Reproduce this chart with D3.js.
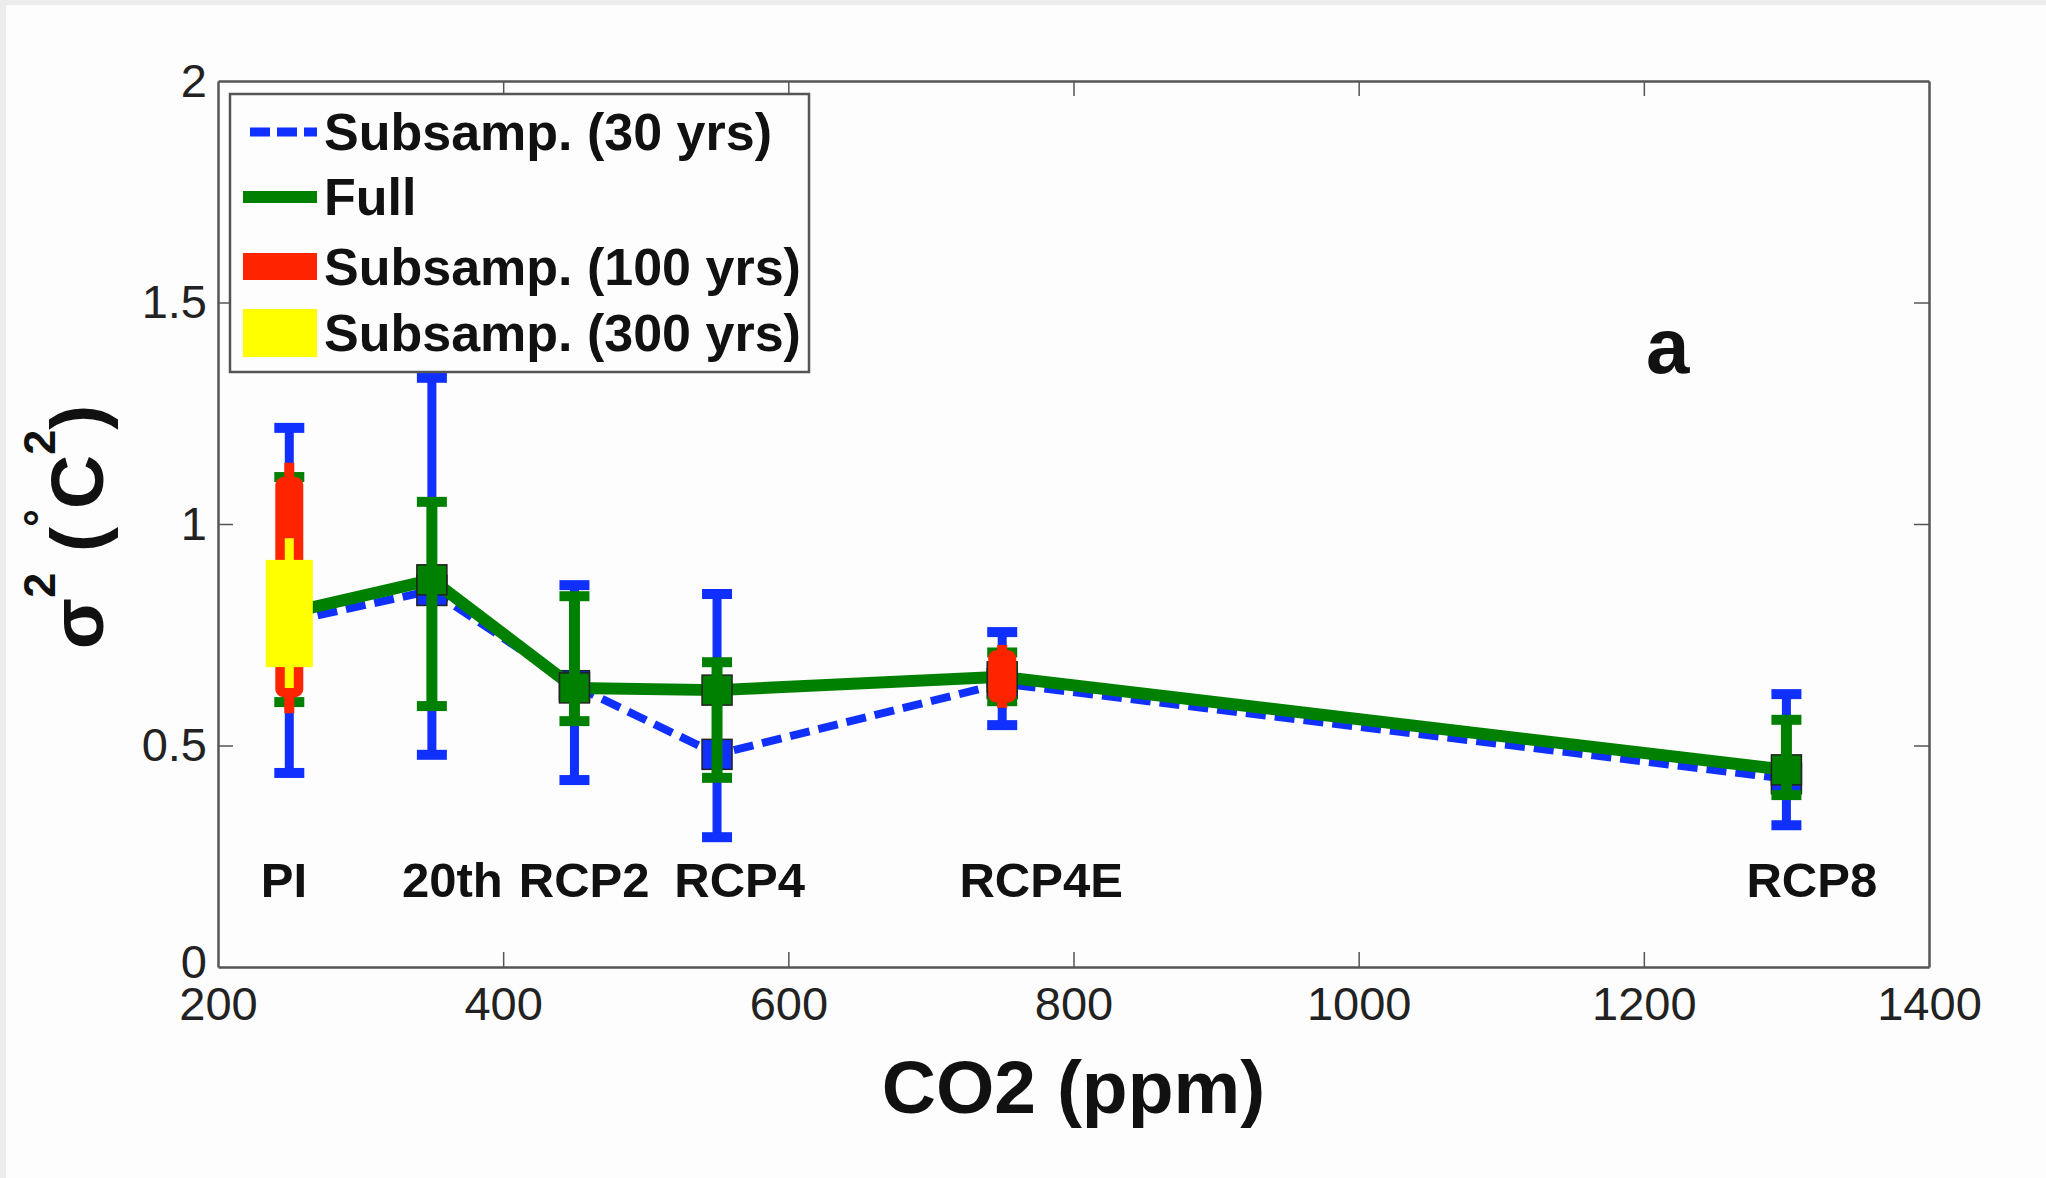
<!DOCTYPE html>
<html>
<head>
<meta charset="utf-8">
<script src="https://cdn.jsdelivr.net/npm/d3@7"></script>
<style>
  body { margin: 0; background: #fdfdfd; }
  svg { display: block; }
  text { font-family: 'Liberation Sans', Arial, Helvetica, sans-serif; }
</style>
</head>
<body>
<div id="container"><svg id="canvas"></svg></div>
<script>
// ************************************************************************************** //
// Data

var scenarios = ['PI', '20th', 'RCP2', 'RCP4', 'RCP4E', 'RCP8'];
var co2 = [250, 350, 450, 550, 750, 1300];
var labelPpm = [230, 329, 411, 520, 720, 1272]; // where each scenario name starts (ppm)
var labelVar = 0.158;

// Subsamp. (30 yrs)
var sub30 = [0.78, 0.85, 0.635, 0.48, 0.64, 0.425];
var sub30Lo = [0.438, 0.479, 0.422, 0.293, 0.546, 0.32];
var sub30Hi = [1.217, 1.33, 0.862, 0.842, 0.756, 0.616];

// Full
var full = [0.80, 0.874, 0.63, 0.625, 0.655, 0.445];
var fullLo = [0.598, 0.589, 0.555, 0.427, 0.60, 0.388];
var fullHi = [1.106, 1.05, 0.837, 0.688, 0.71, 0.558];

// Subsamp. (100 yrs)
var co2_100 = [250, 750];
var sub100Lo = [0.573, 0.585];
var sub100BoxLo = [0.609, 0.597];
var sub100BoxHi = [1.106, 0.715];
var sub100Hi = [1.138, 0.727];

// Subsamp. (300 yrs)
var co2_300 = [250];
var sub300Lo = [0.630];
var sub300BoxLo = [0.677];
var sub300BoxHi = [0.919];
var sub300Hi = [0.968];

var xTicks = [200, 400, 600, 800, 1000, 1200, 1400];
var yTicks = [0, 0.5, 1, 1.5, 2];

var legendLabels = ['Subsamp. (30 yrs)', 'Full', 'Subsamp. (100 yrs)', 'Subsamp. (300 yrs)'];

var col = { blue: '#1030ff', green: '#008000', red: '#ff2400', yellow: '#ffff00', axis: '#555' };

// ************************************************************************************** //
// Create

var canvas_width = 2046, canvas_height = 1178;
var chart = {};

chart.create = function(){
  var svg = d3.select('#canvas').attr('width', canvas_width).attr('height', canvas_height);
  svg.append('rect').attr('width', canvas_width).attr('height', canvas_height).style('fill', '#ececec');
  svg.append('rect').attr('x', 6).attr('y', 5).attr('width', canvas_width - 6).attr('height', canvas_height - 5).style('fill', '#fdfdfd');

  this.left = 218, this.right = 1929, this.top = 81, this.bottom = 967;
  this.x = d3.scaleLinear().domain([200, 1400]).range([this.left, this.right]);
  this.y = d3.scaleLinear().domain([0, 2]).range([this.bottom, this.top]);
  this.svg = svg;
}

chart.axes = function(){
  var x = this.x, y = this.y, svg = this.svg;
  var tick = 15;
  var plain = function(d){ return String(d); };

  var gB = svg.append('g').attr('transform', 'translate(0,' + this.bottom + ')')
    .call(d3.axisBottom(x).tickValues(xTicks).tickSizeInner(-tick).tickSizeOuter(0).tickPadding(20).tickFormat(plain));
  var gT = svg.append('g').attr('transform', 'translate(0,' + this.top + ')')
    .call(d3.axisTop(x).tickValues(xTicks).tickSizeInner(-tick).tickSizeOuter(0).tickFormat(''));
  var gL = svg.append('g').attr('transform', 'translate(' + this.left + ',0)')
    .call(d3.axisLeft(y).tickValues(yTicks).tickSizeInner(-tick).tickSizeOuter(0).tickPadding(11).tickFormat(plain));
  var gR = svg.append('g').attr('transform', 'translate(' + this.right + ',0)')
    .call(d3.axisRight(y).tickValues(yTicks).tickSizeInner(-tick).tickSizeOuter(0).tickFormat(''));

  [gB, gT, gL, gR].forEach(function(g){
    g.select('.domain').style('stroke', col.axis).style('stroke-width', 2.5);
    g.selectAll('.tick line').style('stroke', col.axis).style('stroke-width', 1.5);
    g.selectAll('.tick text').style('font-size', '47px').style('fill', '#222').style('font-family', "'Liberation Sans', Arial, sans-serif");
  });
  // no tick marks on the corners, the frame is there already
  gB.selectAll('.tick line').filter(function(d){ return d == 200 || d == 1400; }).remove();
  gT.selectAll('.tick line').filter(function(d){ return d == 200 || d == 1400; }).remove();
  gL.selectAll('.tick line').filter(function(d){ return d == 0 || d == 2; }).remove();
  gR.selectAll('.tick line').filter(function(d){ return d == 0 || d == 2; }).remove();
  // "0" sits just above "200" like in matlab
  gL.selectAll('.tick text').filter(function(d){ return d == 0; }).attr('dy', '0.22em');
}

// one series of error bars: whisker + caps
chart.errorbars = function(xs, lo, hi, color, width){
  var x = this.x, y = this.y, g = this.svg.append('g');
  var capW = 30;
  xs.forEach(function(c, i){
    g.append('line').attr('x1', x(c)).attr('x2', x(c)).attr('y1', y(lo[i])).attr('y2', y(hi[i]))
      .style('stroke', color).style('stroke-width', width);
    [lo[i], hi[i]].forEach(function(v){
      g.append('line').attr('x1', x(c) - capW/2).attr('x2', x(c) + capW/2).attr('y1', y(v)).attr('y2', y(v))
        .style('stroke', color).style('stroke-width', 10);
    });
  });
}

chart.markers = function(xs, vals, color){
  var x = this.x, y = this.y, s = 30;
  this.svg.append('g').selectAll('rect').data(xs).enter().append('rect')
    .attr('x', function(d){ return x(d) - s/2; })
    .attr('y', function(d, i){ return y(vals[i]) - s/2; })
    .attr('width', s).attr('height', s)
    .style('fill', color).style('stroke', '#222').style('stroke-width', 1.5);
}

// box + thin whisker for the long subsamples
chart.boxes = function(xs, lo, boxLo, boxHi, hi, color, boxW, whiskW, rx){
  var x = this.x, y = this.y, g = this.svg.append('g');
  xs.forEach(function(c, i){
    g.append('line').attr('x1', x(c)).attr('x2', x(c)).attr('y1', y(lo[i])).attr('y2', y(hi[i]))
      .style('stroke', color).style('stroke-width', whiskW);
    g.append('rect').attr('x', x(c) - boxW/2).attr('width', boxW)
      .attr('y', y(boxHi[i])).attr('height', y(boxLo[i]) - y(boxHi[i])).attr('rx', rx)
      .style('fill', color);
  });
}

chart.series = function(){
  var x = this.x, y = this.y;
  var lineGen = d3.line().x(function(d){ return x(d[0]); }).y(function(d){ return y(d[1]); });

  // Subsamp. (30 yrs)
  this.svg.append('path').attr('d', lineGen(co2.map(function(c, i){ return [c, sub30[i]]; })))
    .style('fill', 'none').style('stroke', col.blue).style('stroke-width', 8).style('stroke-dasharray', '20,9');
  this.errorbars(co2, sub30Lo, sub30Hi, col.blue, 9);
  this.markers(co2, sub30, col.blue);

  // Full
  this.svg.append('path').attr('d', lineGen(co2.map(function(c, i){ return [c, full[i]]; })))
    .style('fill', 'none').style('stroke', col.green).style('stroke-width', 12).style('stroke-linejoin', 'round');
  this.markers(co2, full, col.green);
  this.errorbars(co2, fullLo, fullHi, col.green, 11);

  // Subsamp. (100 yrs) and (300 yrs)
  this.boxes(co2_100, sub100Lo, sub100BoxLo, sub100BoxHi, sub100Hi, col.red, 28, 10, 8);
  this.boxes(co2_300, sub300Lo, sub300BoxLo, sub300BoxHi, sub300Hi, col.yellow, 47, 9, 0);
}

chart.labels = function(){
  var x = this.x, y = this.y, svg = this.svg;

  svg.append('g').selectAll('text').data(scenarios).enter().append('text')
    .attr('x', function(d, i){ return x(labelPpm[i]); }).attr('y', y(labelVar))
    .style('font-size', '49px').style('font-weight', 'bold').style('fill', '#111')
    .text(function(d){ return d; });

  svg.append('text').attr('x', (this.left + this.right)/2).attr('y', 1113)
    .attr('text-anchor', 'middle').style('font-size', '75px').style('font-weight', 'bold').style('fill', '#111')
    .text('CO2 (ppm)');

  // sigma^2 (^oC^2)
  var yl = svg.append('text').attr('transform', 'translate(103,' + ((this.top + this.bottom)/2 + 3) + ') rotate(-90)')
    .attr('text-anchor', 'middle').style('font-size', '75px').style('font-weight', 'bold').style('fill', '#111');
  yl.append('tspan').text('\u03C3');
  yl.append('tspan').attr('dy', -48).style('font-size', '45px').text('2');
  yl.append('tspan').attr('dy', 48).text(' (');
  yl.append('tspan').attr('dy', -48).style('font-size', '45px').text('\u00B0');
  yl.append('tspan').attr('dy', 48).text('C');
  yl.append('tspan').attr('dy', -48).style('font-size', '45px').text('2');
  yl.append('tspan').attr('dy', 48).text(')');

  svg.append('text').attr('x', 1646).attr('y', 373)
    .style('font-size', '78px').style('font-weight', 'bold').style('fill', '#111').text('a');
}

chart.legend = function(){
  var g = this.svg.append('g');
  g.append('rect').attr('x', 230).attr('y', 94).attr('width', 579).attr('height', 278)
    .style('fill', '#fdfdfd').style('stroke', col.axis).style('stroke-width', 2.5);

  var rows = [132, 197, 266.5, 333];
  g.append('line').attr('x1', 250).attr('x2', 317).attr('y1', rows[0]).attr('y2', rows[0])
    .style('stroke', col.blue).style('stroke-width', 9).style('stroke-dasharray', '20,7');
  g.append('line').attr('x1', 243).attr('x2', 317).attr('y1', rows[1]).attr('y2', rows[1])
    .style('stroke', col.green).style('stroke-width', 12);
  g.append('rect').attr('x', 243).attr('y', rows[2] - 13.5).attr('width', 74).attr('height', 27).style('fill', col.red);
  g.append('rect').attr('x', 243).attr('y', rows[3] - 24).attr('width', 74).attr('height', 48).style('fill', col.yellow);

  g.selectAll('text.leg').data(legendLabels).enter().append('text').attr('class', 'leg')
    .attr('x', 324).attr('y', function(d, i){ return rows[i] + 18; })
    .style('font-size', '52px').style('font-weight', 'bold').style('fill', '#111')
    .text(function(d){ return d; });
}

chart.create();
chart.series();
chart.axes();
chart.labels();
chart.legend();
</script>
</body>
</html>
